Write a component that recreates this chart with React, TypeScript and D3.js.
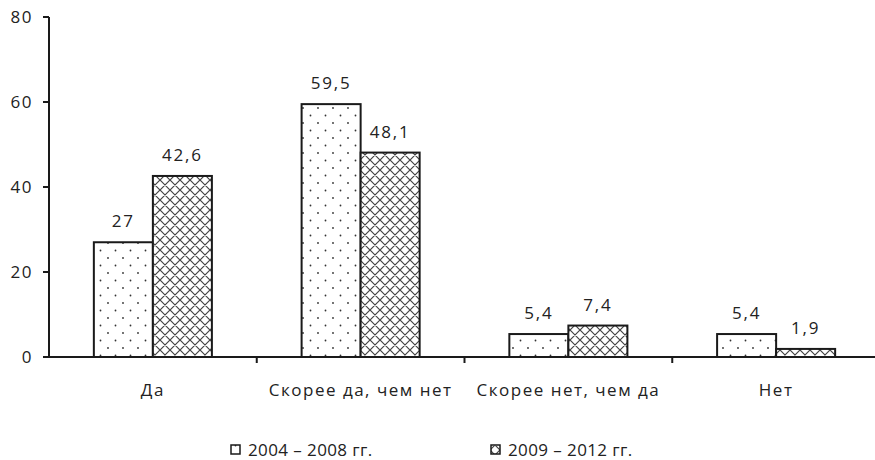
import React from "react";
import * as d3 from "d3";

const categories = ["Да", "Скорее да, чем нет", "Скорее нет, чем да", "Нет"];
const seriesNames = ["2004 – 2008 гг.", "2009 – 2012 гг."];
const series2004 = [27, 59.5, 5.4, 5.4];
const series2009 = [42.6, 48.1, 7.4, 1.9];
const yTicks = [0, 20, 40, 60, 80];

const W = 875;
const H = 460;
const FONT = "'Open Sans', sans-serif";

export default function App() {
  const x0 = d3.scaleBand<string>().domain(categories).range([49, 880]).paddingInner(0).paddingOuter(0);
  const x1 = d3.scaleBand<string>().domain(["a", "b"]).range([0, x0.bandwidth()]).paddingInner(0).paddingOuter(0.76);
  const y = d3.scaleLinear().domain([0, 80]).range([357, 17]);
  const fmt = (v: number) => String(v).replace(".", ",");
  const data = [series2004, series2009];
  const fills = ["url(#dots)", "url(#cross)"];

  return (
    <svg width={W} height={H} style={{ position: "absolute", left: 0, top: 0, background: "#fff" }}>
      <defs>
        <pattern id="dots" width={15} height={15} patternUnits="userSpaceOnUse">
          <rect width={15} height={15} fill="#fff" />
          <circle cx={3} cy={3} r={0.9} fill="#333" />
          <circle cx={10.5} cy={10.5} r={0.9} fill="#333" />
        </pattern>
        <pattern id="cross" width={10} height={10} patternUnits="userSpaceOnUse">
          <rect width={10} height={10} fill="#fff" />
          <path d="M0,0L10,10M10,0L0,10M-1,9L1,11M9,-1L11,1M-1,1L1,-1M9,11L11,9" stroke="#444" strokeWidth={1.2} />
        </pattern>
      </defs>
      {/* bars */}
      {categories.map((c, i) =>
        data.map((s, k) => {
          const bx = (x0(c) as number) + (x1(k === 0 ? "a" : "b") as number);
          const by = y(s[i]);
          return (
            <g key={c + k}>
              <rect x={bx} y={by} width={x1.bandwidth()} height={y(0) - by} fill={fills[k]} stroke="#1a1a1a" strokeWidth={2} />
              <text x={bx + x1.bandwidth() / 2} y={by - 15} textAnchor="middle" fontFamily={FONT} fontSize={17} fill="#222" letterSpacing={1.8}>
                {fmt(s[i])}
              </text>
            </g>
          );
        })
      )}
      {/* y axis */}
      <line x1={49} x2={49} y1={y(80)} y2={y(0)} stroke="#1a1a1a" strokeWidth={2} />
      {yTicks.map((t) => (
        <g key={t}>
          <line x1={43} x2={49} y1={y(t)} y2={y(t)} stroke="#1a1a1a" strokeWidth={2} />
          <text x={33} y={y(t)} dy="0.35em" textAnchor="end" fontFamily={FONT} fontSize={17} fill="#222" letterSpacing={1.5}>
            {t}
          </text>
        </g>
      ))}
      {/* x axis */}
      <line x1={48} x2={880} y1={y(0)} y2={y(0)} stroke="#1a1a1a" strokeWidth={2} />
      {categories.slice(1).map((c) => (
        <line key={c} x1={x0(c)} x2={x0(c)} y1={y(0)} y2={y(0) + 6} stroke="#1a1a1a" strokeWidth={2} />
      ))}
      {categories.map((c) => (
        <text key={c} x={(x0(c) as number) + x0.bandwidth() / 2} y={390} dy="0.35em" textAnchor="middle" fontFamily={FONT} fontSize={17} fill="#222" letterSpacing={1.5}>
          {c}
        </text>
      ))}
      {/* legend */}
      {seriesNames.map((n, k) => {
        const lx = k === 0 ? 231 : 491;
        return (
          <g key={n}>
            <rect x={lx} y={445} width={9} height={9} fill={fills[k]} stroke="#1a1a1a" strokeWidth={1.5} />
            <text x={lx + 17} y={450} dy="0.35em" fontFamily={FONT} fontSize={17} fill="#222" letterSpacing={0.4}>
              {n}
            </text>
          </g>
        );
      })}
    </svg>
  );
}
